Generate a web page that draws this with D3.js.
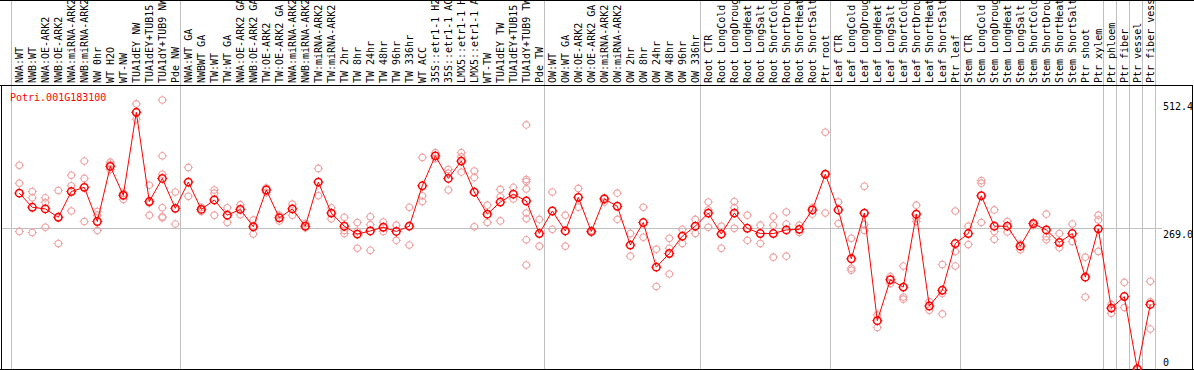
<!DOCTYPE html>
<html>
<head>
<meta charset="utf-8">
<script src="https://cdn.jsdelivr.net/npm/d3@7"></script>
<style>
  body { margin: 0; background: #fff; }
  text { font-family: "DejaVu Sans Mono", monospace; font-size: 10px; }
</style>
</head>
<body>
<svg width="1194" height="370"></svg>
<script>
"use strict";

const gene = "Potri.001G183100";

const samples = [
  "NWA:WT", "NWB:WT", "NWA:OE-ARK2", "NWB:OE-ARK2", "NWA:miRNA-ARK2", "NWB:miRNA-ARK2",
  "NW 0hr", "WT H2O", "WT-NW", "TUA1dEY NW", "TUA1dEY+TUB15", "TUA1dY+TUB9 NW", "Pde NW",
  "NWA:WT GA", "NWBWT GA", "TW:WT", "TW:WT GA", "NWA:OE-ARK2 GA", "NWB:OE-ARK2 GA",
  "TW:OE-ARK2", "TW:OE-ARK2 GA", "NWA:miRNA-ARK2", "NWB:miRNA-ARK2", "TW:miRNA-ARK2",
  "TW:miRNA-ARK2", "TW 2hr", "TW 8hr", "TW 24hr", "TW 48hr", "TW 96hr", "TW 336hr",
  "WT ACC", "35S::etr1-1 H2O", "35S::etr1-1 ACC", "LMX5::etr1-1 H2O", "LMX5::etr1-1 ACC",
  "WT-TW", "TUA1dEY TW", "TUA1dEY+TUB15", "TUA1dY+TUB9 TW", "Pde TW",
  "OW:WT", "OW:WT GA", "OW:OE-ARK2", "OW:OE-ARK2 GA", "OW:miRNA-ARK2", "OW:miRNA-ARK2",
  "OW 2hr", "OW 8hr", "OW 24hr", "OW 48hr", "OW 96hr", "OW 336hr",
  "Root CTR", "Root LongCold", "Root LongDrought", "Root LongHeat", "Root LongSalt",
  "Root ShortCold", "Root ShortDrought", "Root ShortHeat", "Root ShortSalt", "Ptr root",
  "Leaf CTR", "Leaf LongCold", "Leaf LongDrought", "Leaf LongHeat", "Leaf LongSalt",
  "Leaf ShortCold", "Leaf ShortDrought", "Leaf ShortHeat", "Leaf ShortSalt", "Ptr leaf",
  "Stem CTR", "Stem LongCold", "Stem LongDrought", "Stem LongHeat", "Stem LongSalt",
  "Stem ShortCold", "Stem ShortDrought", "Stem ShortHeat", "Stem ShortSalt", "Ptr shoot",
  "Ptr xylem", "Ptr phloem", "Ptr fiber", "Ptr vessel", "Ptr fiber vessel"
];

const means = [
  335, 308, 305, 289, 338, 346, 281, 386, 331, 489, 319, 363, 306,
  356, 304, 322, 293, 304, 271, 341, 288, 305, 272, 356, 297, 272, 257, 263, 270, 262, 272,
  349, 406, 363, 396, 337, 295, 318, 333, 320, 258,
  301, 263, 327, 262, 324, 310, 236, 279, 194, 220, 253, 272,
  297, 257, 297, 268, 258, 258, 265, 266, 303, 371,
  303, 210, 297, 92, 170, 156, 295, 120, 150, 239,
  258, 330, 272, 272, 234, 277, 265, 241, 258, 175, 267,
  116, 138, 0, 123
];

const reps = [
  [388, 354, 262], [338, 326, 260], [326, 317, 270], [340, 289, 239], [369, 349, 301],
  [396, 363, 281], [300, 293, 264], [394, 390, 380], [335, 331, 323], [505, 489, 476],
  [350, 316, 293], [512.4, 406, 371, 307, 290, 288], [337, 276],
  [384, 329], [308, 300], [341, 335, 293], [307, 279], [313, 294], [284, 257],
  [345, 336], [293, 282], [314, 293], [277, 269], [382, 330], [307, 286],
  [289, 264, 258], [279, 262, 230], [290, 275, 226], [280, 262], [274, 245], [308, 236],
  [403, 330, 319], [412, 401], [380, 373, 341], [412, 404, 375], [377, 365, 271],
  [312, 279], [342, 328, 282], [346, 324], [465, 361, 357, 343, 297, 286, 246, 198], [285, 234],
  [337, 266], [293, 234], [344, 308], [264, 260], [326, 318], [335, 285],
  [258, 215], [308, 251], [228, 157], [249, 230, 181], [266, 239], [285, 258],
  [318, 303, 270], [272, 230], [319, 307, 268], [293, 245], [274, 239],
  [290, 274, 213], [299, 276, 215], [274, 260], [307, 295], [451, 371, 297],
  [318, 277], [249, 192, 188], [348, 275, 264], [103, 79], [176, 163],
  [196, 137, 133], [312, 287, 281], [128, 112], [199, 144, 105], [301, 224, 196],
  [272, 237], [359, 354, 279], [303, 262, 247], [281, 261], [238, 227],
  [279, 274], [295, 252, 246], [258, 231], [276, 243], [213, 137], [293, 284, 224],
  [123, 106], [165, 117], [0], [167, 128, 76]
];

// index of the last sample in each group (-1 = line before the first group)
const groupEnds = [-1, 12, 40, 52, 62, 72, 83, 84, 85, 86, 87];
const yTicks = [512.4, 269.0, 0];

let svg = d3.select("svg"),
  W = 1194,
  headerY = 85,
  x = d3.scaleLinear().domain([0, samples.length - 1]).range([19.3, 1150.3]),
  y = d3.scaleLinear().domain([0, 512.4]).range([369, 100]),
  red = "#ff0000",
  pale = "#f0a0a0"
;

// vertical group separators (run through header too)
svg.append("g")
  .selectAll("line")
  .data(groupEnds)
  .join("line")
  .attr("x1", d => Math.round(x(d) + 4.5) + 0.5)
  .attr("x2", d => Math.round(x(d) + 4.5) + 0.5)
  .attr("y1", 0)
  .attr("y2", 369)
  .attr("stroke", "#c0c0c0");

// horizontal reference line at the middle tick
svg.append("line")
  .attr("x1", 2).attr("x2", 1162)
  .attr("y1", Math.round(y(yTicks[1])) + 0.5)
  .attr("y2", Math.round(y(yTicks[1])) + 0.5)
  .attr("stroke", "#c0c0c0");

// frame
svg.append("line").attr("x1", 0).attr("x2", W).attr("y1", 0.5).attr("y2", 0.5).attr("stroke", "#000");
svg.append("line").attr("x1", 0).attr("x2", W - 1).attr("y1", headerY + 0.5).attr("y2", headerY + 0.5).attr("stroke", "#000");
svg.append("line").attr("x1", 0).attr("x2", W).attr("y1", 369.5).attr("y2", 369.5).attr("stroke", "#000");
svg.append("line").attr("x1", 1.5).attr("x2", 1.5).attr("y1", headerY).attr("y2", 370).attr("stroke", "#000");
svg.append("line").attr("x1", W - 1.5).attr("x2", W - 1.5).attr("y1", headerY).attr("y2", 370).attr("stroke", "#000");

// sample labels, rotated
svg.append("g")
  .selectAll("text")
  .data(samples)
  .join("text")
  .attr("transform", (d, i) => "translate(" + (x(i) + 3.5) + "," + (headerY - 2) + ") rotate(-90)")
  .attr("fill", "#000")
  .text(d => d);

// gene name
svg.append("text")
  .attr("x", 10).attr("y", 101)
  .attr("fill", red)
  .text(gene);

// right value labels
svg.append("g")
  .selectAll("text")
  .data(yTicks)
  .join("text")
  .attr("x", 1163)
  .attr("y", d => Math.min(y(d) + 10, 366))
  .attr("fill", "#000")
  .text(d => d === 0 ? "0" : d.toFixed(1));

function marker(sel, r, color, width) {
  sel.append("circle")
    .attr("r", r)
    .attr("fill", "none")
    .attr("stroke", color)
    .attr("stroke-width", width);
  let t = r + 1.3;
  sel.append("path")
    .attr("d", "M0," + (-t) + "V" + (-r) + "M0," + r + "V" + t +
      "M" + (-t) + ",0H" + (-r) + "M" + r + ",0H" + t)
    .attr("stroke", color)
    .attr("stroke-width", 1);
}

// replicate points
let repPts = [];
reps.forEach((arr, i) => arr.forEach(v => repPts.push({i: i, v: v})));

svg.append("g")
  .selectAll("g")
  .data(repPts)
  .join("g")
  .attr("transform", d => "translate(" + x(d.i) + "," + y(d.v) + ")")
  .each(function() { marker(d3.select(this), 3.3, pale, 1.1); });

// mean line
let line = d3.line()
  .x((d, i) => x(i))
  .y(d => y(d));

svg.append("path")
  .datum(means)
  .attr("fill", "none")
  .attr("stroke", red)
  .attr("stroke-width", 1)
  .attr("d", line);

svg.append("g")
  .selectAll("g")
  .data(means)
  .join("g")
  .attr("transform", (d, i) => "translate(" + x(i) + "," + y(d) + ")")
  .each(function() { marker(d3.select(this), 3.7, red, 1.5); });
</script>
</body>
</html>
